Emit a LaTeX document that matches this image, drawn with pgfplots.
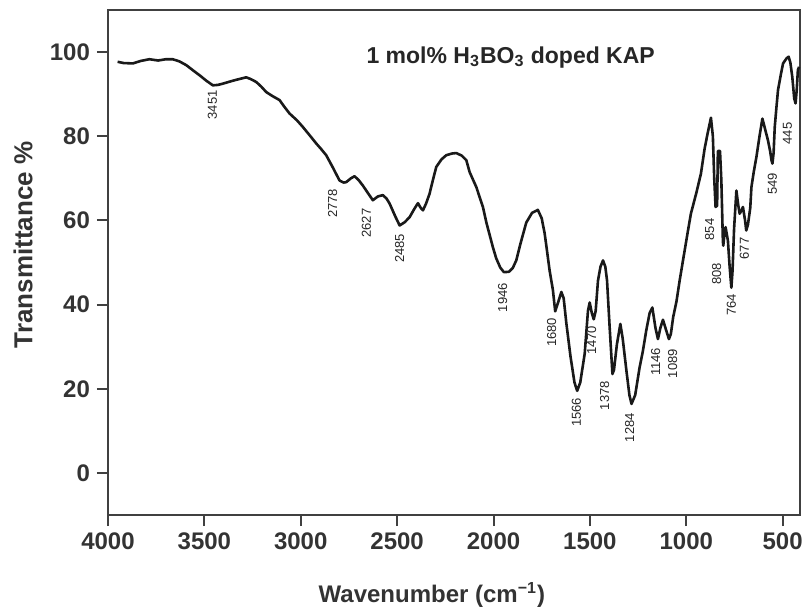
\documentclass[border=0pt]{standalone}
\usepackage{fontspec}
\setmainfont{Liberation Sans}
\usepackage{pgfplots}
\pgfplotsset{compat=1.18}

\pgfplotstableread{
w y
3950 97.7
3920 97.4
3871 97.3
3830 97.9
3785 98.3
3740 98.0
3700 98.3
3664 98.3
3630 97.8
3594 96.9
3560 95.7
3525 94.5
3490 93.2
3456 92.1
3430 92.2
3404 92.5
3352 93.2
3310 93.7
3283 94.0
3260 93.6
3231 92.9
3205 91.8
3179 90.5
3145 89.5
3110 88.6
3085 87.0
3058 85.4
3020 83.8
2989 82.2
2955 80.3
2920 78.3
2895 77.0
2868 75.5
2835 72.7
2799 69.5
2778 69.0
2764 69.1
2740 70.0
2721 70.5
2700 69.6
2678 68.3
2650 66.4
2626 64.8
2600 65.7
2574 66.0
2555 65.2
2539 64.0
2510 61.0
2487 58.8
2460 59.6
2435 60.8
2410 62.8
2392 64.1
2378 63.0
2366 62.4
2350 64.0
2332 66.3
2315 69.5
2297 72.7
2270 74.5
2245 75.5
2215 75.9
2193 76.0
2165 75.4
2141 74.3
2124 71.5
2089 67.9
2055 63.2
2037 59.5
2003 53.6
1986 51.0
1965 48.8
1946 47.7
1920 47.8
1900 48.7
1882 50.5
1860 54.5
1830 59.5
1800 61.8
1770 62.5
1750 60.5
1735 57.0
1726 54.0
1709 48.1
1692 43.5
1680 38.4
1665 40.5
1648 43.0
1636 41.5
1622 35.5
1600 27.5
1580 21.5
1566 19.5
1550 21.5
1527 28.3
1510 38.5
1501 40.5
1490 38.0
1480 36.5
1470 38.5
1458 45.7
1445 49.0
1432 50.5
1420 49.0
1411 45.7
1398 35.0
1383 23.5
1375 24.5
1360 30.5
1342 35.4
1330 32.0
1311 24.5
1295 18.5
1284 16.4
1265 18.5
1242 25.1
1225 29.0
1207 34.0
1190 38.0
1176 39.3
1160 34.5
1147 31.8
1134 34.5
1121 36.4
1105 34.0
1090 31.8
1080 33.0
1068 37.0
1051 40.7
1035 45.5
1017 50.5
991 57.6
976 61.6
948 66.5
924 71.1
905 77.0
890 80.5
872 84.4
862 80.0
855 70.0
848 63.2
840 63.5
836 76.5
825 76.5
818 69.5
810 55.0
808 54.0
800 57.5
796 58.4
784 55.2
775 49.0
766 44.0
760 48.0
752 58.0
740 67.1
730 63.5
723 61.6
712 62.5
706 63.2
695 60.0
689 57.6
680 59.0
668 63.0
662 67.9
650 71.5
636 75.1
620 80.0
605 84.2
590 81.5
576 79.0
565 76.5
558 74.3
553 73.5
547 76.0
541 82.2
532 87.0
524 91.0
510 94.5
498 97.3
480 98.5
469 98.9
460 97.5
450 94.1
440 89.0
433 87.8
427 91.0
421 95.7
415 96.5
}\spectrum

\begin{document}
\begin{tikzpicture}
\begin{axis}[
    scale only axis,
    width=346pt, height=252.5pt,
    x dir=reverse,
    xmin=410, xmax=4000,
    ymin=-10, ymax=110,
    xtick={500,1000,...,4000},
    ytick={0,20,...,100},
    xtick pos=lower, ytick pos=left,
    tick align=outside,
    major tick length=5.5pt,
    axis line style={black!75, line width=1.1pt},
    every tick/.style={black!75, line width=1pt},
    scaled ticks=false,
    /pgf/number format/1000 sep={},
    /pgf/number format/assume math mode=true,
    tick label style={font=\bfseries\fontsize{12}{14}\selectfont, text=black!80},
    xlabel={Wavenumber (cm\textsuperscript{−1})},
    ylabel={Transmittance \%},
    xlabel style={at={(axis description cs:0.468,-0.158)}, anchor=center,
                  font=\bfseries\fontsize{12}{14}\selectfont, text=black!80},
    ylabel style={at={(axis description cs:-0.1228,0.535)}, anchor=center, rotate=0,
                  font=\bfseries\fontsize{13}{15}\selectfont, text=black!80},
    clip=true,
]
\addplot[black!90, line width=1.3pt, line join=round] table[x=w, y=y] {\spectrum};

\node[font=\bfseries\fontsize{11.5}{13}\selectfont, text=black!85] at (axis cs:1911,98.8)
    {1 mol\% H\textsubscript{3}BO\textsubscript{3} doped KAP};

\begin{scope}[every node/.style={rotate=90, anchor=east, inner sep=0pt,
      font=\fontsize{6.5}{7}\selectfont, text=black!85}]
\node at (axis cs:3458,91.0) {3451};
\node at (axis cs:2835,67.6) {2778};
\node at (axis cs:2659,62.9) {2627};
\node at (axis cs:2487,56.9) {2485};
\node at (axis cs:1952,45.2) {1946};
\node at (axis cs:1699,36.9) {1680};
\node at (axis cs:1570,17.9) {1566};
\node at (axis cs:1491,35.0) {1470};
\node at (axis cs:1424,21.9) {1378};
\node at (axis cs:1294,14.3) {1284};
\node at (axis cs:1159,29.8) {1146};
\node at (axis cs:1071,29.5) {1089};
\node at (axis cs:879,60.5) {854};
\node at (axis cs:843,50.0) {808};
\node at (axis cs:766,42.6) {764};
\node at (axis cs:698,56.0) {677};
\node at (axis cs:553,71.4) {549};
\node at (axis cs:475,83.3) {445};
\end{scope}
\end{axis}
\pgfresetboundingbox
\path ([shift={(-54pt,-48.5pt)}]current axis.south west)
   rectangle ([shift={(1.5pt,5pt)}]current axis.north east);
\end{tikzpicture}
\end{document}
